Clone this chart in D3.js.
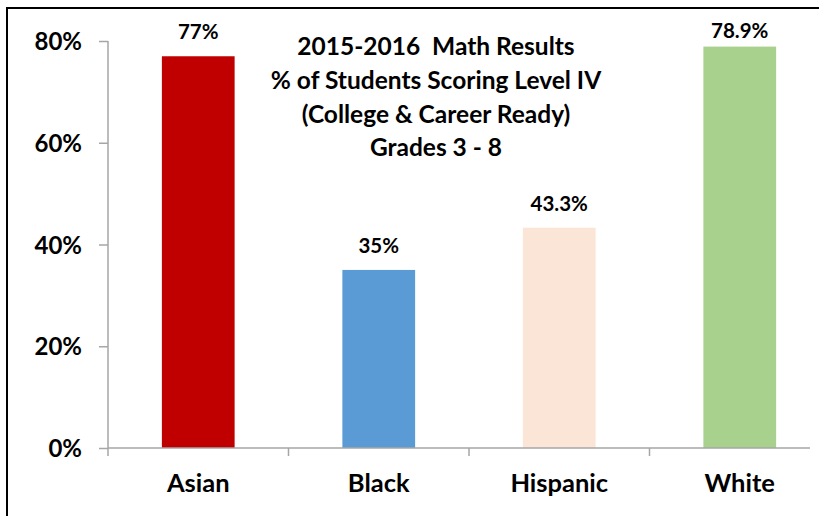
<!DOCTYPE html>
<html><head><meta charset="utf-8">
<script src="https://cdn.jsdelivr.net/npm/d3@7"></script>
<style>body{margin:0;background:#fff;} svg{display:block;} text{font-family:Lato,"Open Sans",sans-serif;font-weight:700;fill:#000;}</style>
</head><body>
<script>
const categories = ["Asian", "Black", "Hispanic", "White"];
const values = [77, 35, 43.3, 78.9];
const valueLabels = ["77%", "35%", "43.3%", "78.9%"];
const colors = ["#C00000", "#5B9BD5", "#FBE5D6", "#A9D18E"];
const yTicks = [0, 20, 40, 60, 80];
const titleLines = ["2015-2016  Math Results", "% of Students Scoring Level IV", "(College & Career Ready)", "Grades 3 - 8"];

const W = 819, H = 516;
const svg = d3.select("body").append("svg").attr("width", W).attr("height", H);

// outer frame
svg.append("rect").attr("x", 7).attr("y", 8).attr("width", W + 20).attr("height", H + 20)
  .attr("fill", "none").attr("stroke", "#000").attr("stroke-width", 2);

const x = d3.scaleBand().domain(categories).range([108, 830]).paddingInner(0.597).paddingOuter(0.2985);
const y = d3.scaleLinear().domain([0, 80]).range([448, 41]);

const axisColor = "#A6A6A6";

// y axis
const yAxis = svg.append("g").attr("transform", "translate(108,0)")
  .call(d3.axisLeft(y).tickValues(yTicks).tickFormat(d => d + "%").tickSize(9).tickPadding(17));
yAxis.select(".domain").attr("stroke", axisColor).attr("stroke-width", 1.5).attr("d", `M0,${y(80)}V456`);
yAxis.selectAll(".tick line").attr("stroke", axisColor).attr("stroke-width", 1.5);
yAxis.selectAll(".tick text").attr("font-size", 24).attr("font-family", "Lato").attr("font-weight", 700).attr("fill", "#000").attr("dy", "0.36em");

// bars
svg.append("g").selectAll("rect").data(categories).join("rect")
  .attr("x", d => x(d)).attr("width", x.bandwidth())
  .attr("y", (d, i) => y(values[i])).attr("height", (d, i) => y(0) - y(values[i]))
  .attr("fill", (d, i) => colors[i]);

// x axis
const xg = svg.append("g").attr("transform", `translate(0,${y(0)})`);
xg.append("line").attr("x1", 108).attr("x2", 810).attr("y1", 0).attr("y2", 0)
  .attr("stroke", axisColor).attr("stroke-width", 1.5);
const bounds = categories.slice(1).map(c => x(c) - x.step() * x.paddingInner() / 2);
xg.selectAll("line.tk").data(bounds).join("line").attr("class", "tk")
  .attr("x1", d => d).attr("x2", d => d).attr("y1", 0).attr("y2", 8)
  .attr("stroke", axisColor).attr("stroke-width", 1.5);
xg.selectAll("text").data(categories).join("text")
  .attr("x", d => x(d) + x.bandwidth() / 2).attr("y", 44)
  .attr("text-anchor", "middle").attr("font-size", 25.5).text(d => d);

// value labels
svg.append("g").selectAll("text").data(categories).join("text")
  .attr("x", d => x(d) + x.bandwidth() / 2)
  .attr("y", (d, i) => Math.max(y(values[i]) - 17, 38))
  .attr("text-anchor", "middle").attr("font-size", 20.5).text((d, i) => valueLabels[i]);

// title
svg.append("g").selectAll("text").data(titleLines).join("text")
  .attr("x", 436).attr("y", (d, i) => 55 + i * 33.8)
  .attr("text-anchor", "middle").attr("font-size", 24.5).attr("xml:space", "preserve").style("white-space", "pre").text(d => d);
</script>
</body></html>
